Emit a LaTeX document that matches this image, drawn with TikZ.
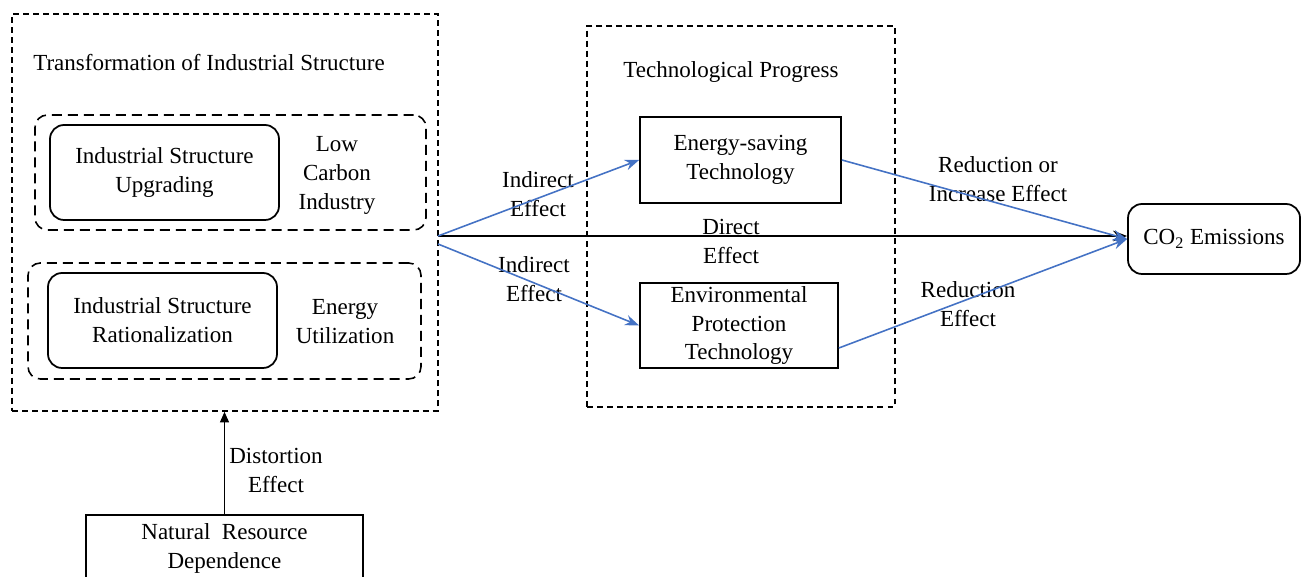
\documentclass[tikz,border=0pt]{standalone}
\usepackage{fontspec}
\setmainfont{Liberation Serif}
\usetikzlibrary{positioning}
\usetikzlibrary{arrows.meta}
\definecolor{linkblue}{RGB}{68,114,196}

\begin{document}
\begin{tikzpicture}[
		font=\fontsize{13.1}{16.5}\selectfont,
		frame/.style={draw,line width=0.9pt,dash pattern=on 3.4pt off 2.3pt,inner sep=0pt},
		group/.style={draw,line width=0.9pt,rounded corners=7pt,dash pattern=on 5.7pt off 3.4pt,inner sep=0pt},
		unit/.style={draw,line width=1pt,rounded corners=8pt,align=center,inner sep=0pt},
		techbox/.style={draw,line width=1pt,align=center,inner sep=0pt},
		label/.style={align=center,inner sep=0pt},
		blueline/.style={linkblue,line width=0.9pt,-{Stealth[length=8pt,width=6pt]}},
	]
		\useasboundingbox (0,0) rectangle (26.02,11.52);
		% transformation of industrial structure
		\node (zhuanxing) [frame,minimum width=8.52cm,minimum height=7.94cm] at (4.50,7.27) {};
		\node (zhuanxingtitle) [label] at (4.18,10.26) {Transformation of Industrial Structure};
		\node (lowcarbon) [group,minimum width=7.82cm,minimum height=2.30cm] at (4.61,8.07) {};
		\node (upgrading) [unit,minimum width=4.58cm,minimum height=1.90cm] at (3.29,8.07) {Industrial Structure\\Upgrading};
		\node (lowcarbontext) [label] at (6.74,8.02) {Low\\Carbon\\Industry};
		\node (energyuse) [group,minimum width=7.86cm,minimum height=2.32cm] at (4.49,5.10) {};
		\node (rational) [unit,minimum width=4.58cm,minimum height=1.90cm] at (3.25,5.11) {Industrial Structure\\Rationalization};
		\node (energyusetext) [label] at (6.90,5.08) {Energy\\Utilization};
		% technological progress
		\node (jishu) [frame,minimum width=6.16cm,minimum height=7.62cm] at (14.82,7.19) {};
		\node (jishutitle) [label] at (14.62,10.08) {Technological Progress};
		\node (energysaving) [techbox,minimum width=4.02cm,minimum height=1.72cm] at (14.81,8.32) {Energy-saving\\Technology};
		\node (envprotect) [techbox,minimum width=3.96cm,minimum height=1.70cm] at (14.78,5.01) {Environmental\\Protection\\Technology};
		% emissions and resource dependence
		\node (co2) [unit,minimum width=3.44cm,minimum height=1.40cm] at (24.28,6.74) {CO\textsubscript{2} Emissions};
		\node (resource) [techbox,minimum width=5.54cm,minimum height=1.32cm] at (4.49,0.56) {Natural\ \ Resource\\Dependence};
		\coordinate (fork) at (8.76,6.80);
		% effect labels
		\node (indirectup) [label] at (10.76,7.64) {Indirect\\Effect};
		\node (indirectdown) [label] at (10.68,5.94) {Indirect\\Effect};
		\node (direct) [label] at (14.62,6.70) {Direct\\Effect};
		\node (mixed) [label] at (19.96,7.94) {Reduction or\\Increase Effect};
		\node (reduce) [label] at (19.36,5.44) {Reduction\\Effect};
		\node (distort) [label] at (5.52,2.12) {Distortion\\Effect};
		% connectors
		\draw [line width=1pt,-{Stealth[length=8pt,width=6pt]}] (fork) -- (fork -| co2.west);
		\draw [blueline] (fork) -- (energysaving.west);
		\draw [blueline] ([yshift=-0.16cm]fork) -- (envprotect.west);
		\draw [blueline] (energysaving.east) -- (co2.west);
		\draw [blueline] ([yshift=-0.45cm]envprotect.east) -- (co2.west);
		\draw [line width=1pt,-{Triangle[length=6pt,width=5pt]}] (resource.north) -- (resource.north |- zhuanxing.south);
	\end{tikzpicture}
\end{document}
